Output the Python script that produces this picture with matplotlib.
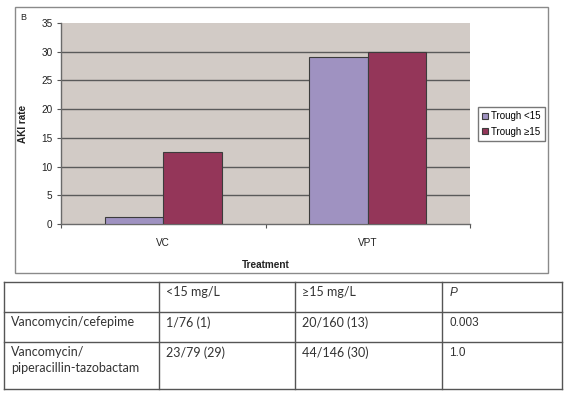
import matplotlib
matplotlib.use("Agg")
import matplotlib.pyplot as plt
import numpy as np
from matplotlib.patches import Rectangle
from matplotlib.lines import Line2D

# ---- data ----
categories = ["VC", "VPT"]
series_names = ["Trough <15", "Trough \u226515"]
trough_low = [1.3, 29.0]
trough_high = [12.5, 30.0]
y_ticks = [0, 5, 10, 15, 20, 25, 30, 35]

table_header = ["", "<15 mg/L", "\u226515 mg/L", "P"]
table_rows = [
    ["Vancomycin/cefepime", "1/76 (1)", "20/160 (13)", "0.003"],
    ["Vancomycin/\npiperacillin-tazobactam", "23/79 (29)", "44/146 (30)", "1.0"],
]

# ---- style ----
W, H = 576, 399
plt.rcParams['font.family'] = ['Liberation Sans', 'DejaVu Sans']
col_low = "#9f92c1"
col_high = "#943659"
bg_plot = "#d2cbc6"
edge = "#3c3c3c"

fig = plt.figure(figsize=(W / 100, H / 100), dpi=100)
fig.patch.set_facecolor("white")

def px(x, y):
    return x / W, 1 - y / H

# background canvas for frame & table
bg = fig.add_axes([0, 0, 1, 1], zorder=0)
bg.set_xlim(0, W)
bg.set_ylim(H, 0)
bg.axis("off")

# chart frame
bg.add_patch(Rectangle((15, 7), 533, 266, fill=False, ec="#8a8a8a", lw=1.0))
bg.text(23, 17, "B", fontsize=6.5, ha="center", va="center", color="#222")

# ---- chart ----
x0, x1, yt, yb = 61, 470, 23, 224
ax = fig.add_axes([x0 / W, 1 - yb / H, (x1 - x0) / W, (yb - yt) / H], zorder=2)
ax.set_facecolor(bg_plot)
n = len(categories)
xs = np.arange(n)
bw = 1 / 3.5
b1 = ax.bar(xs - bw / 2, trough_low, bw, color=col_low, ec=edge, lw=0.8, label=series_names[0], zorder=3)
b2 = ax.bar(xs + bw / 2, trough_high, bw, color=col_high, ec=edge, lw=0.8, label=series_names[1], zorder=3)
ax.set_xlim(-0.5, n - 0.5)
ax.set_ylim(0, 35)
ax.set_yticks(y_ticks)
ax.set_yticklabels([str(v) for v in y_ticks], fontsize=7.2, color="#222")
for v in y_ticks[1:-1]:
    ax.axhline(v, color="#5a5a5a", lw=1.0, zorder=1)
ax.set_xticks(np.arange(-0.5, n, 1.0))
ax.set_xticklabels([])
ax.set_xticks(xs, minor=True)
ax.set_xticklabels(categories, minor=True, fontsize=7.2, color="#222")
ax.tick_params(axis="x", which="minor", length=0, pad=10)
ax.tick_params(axis="x", which="major", length=3, color="#555", direction="out")
ax.tick_params(axis="y", length=3, color="#555", direction="out", pad=3)
for s in ["top", "right"]:
    ax.spines[s].set_visible(False)
for s in ["left", "bottom"]:
    ax.spines[s].set_color("#6a6a6a")
    ax.spines[s].set_linewidth(1.0)
ax.set_xlabel("Treatment", fontsize=7.2, fontweight="bold", labelpad=9, color="#222")
ax.set_ylabel("AKI rate", fontsize=7.2, fontweight="bold", labelpad=10, color="#222")

fig.legend(handles=[b1, b2], labels=series_names, loc="center left",
           bbox_to_anchor=px(478, 124), fontsize=7.0, frameon=True, fancybox=False,
           edgecolor="#555", handlelength=0.6, handleheight=0.6, handletextpad=0.35,
           borderpad=0.4, labelspacing=0.55, borderaxespad=0)

# ---- table ----
col_x = [3.5, 159, 295, 442, 562]
row_y = [282, 312, 342, 389]
lc = "#555"
for yv in row_y:
    bg.add_line(Line2D([col_x[0], col_x[-1]], [yv, yv], color=lc, lw=1.0))
for xv in col_x:
    bg.add_line(Line2D([xv, xv], [row_y[0], row_y[-1]], color=lc, lw=1.0))

tfont = ['Lato', 'DejaVu Sans']
rows_all = [table_header] + table_rows
for r, row in enumerate(rows_all):
    for c, txt in enumerate(row):
        if not txt:
            continue
        tx = col_x[c] + 7.5
        ty = row_y[r] + 4
        if r == 0 and c == 3:
            bg.text(tx, ty + 1, txt, fontsize=8.5, style="italic", family=['Liberation Sans'],
                    ha="left", va="top", color="#333")
        elif c == 3:
            bg.text(tx, ty + 1, txt, fontsize=8.5, family=['Liberation Sans'],
                    ha="left", va="top", color="#333")
        else:
            bg.text(tx, ty, txt, fontsize=9.0, family=tfont, ha="left", va="top",
                    color="#333", linespacing=1.4)

fig.savefig("out.png", dpi=100, facecolor="white")
